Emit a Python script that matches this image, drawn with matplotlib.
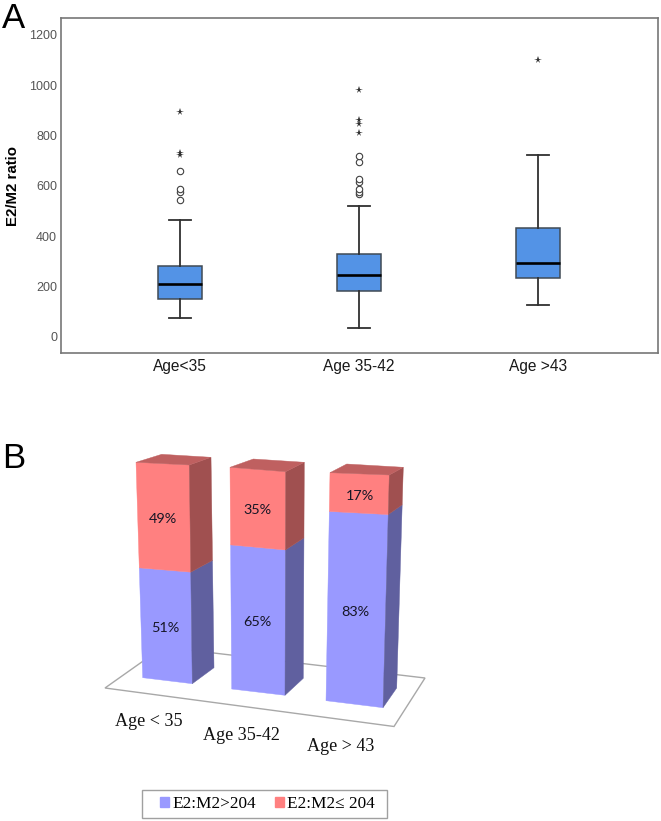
"""
Panel A: box plots of E2/M2 ratio by age, panel B: 3D-looking stacked bars
"""

import matplotlib

matplotlib.use("Agg")
import matplotlib.pyplot as plt
from matplotlib.patches import Patch, Polygon, Rectangle

W, H = 661, 821

age_labels_a = ["Age<35", "Age 35-42", "Age >43"]
whisker_low = [74, 35, 127]
q1_values = [150, 183, 236]
median_values = [209, 248, 294]
q3_values = [281, 330, 433]
whisker_high = [465, 520, 724]
outliers_circle = [
    [544, 576, 587, 660],
    [567, 577, 587, 617, 628, 696, 720],
    [],
]
outliers_star = [
    [722, 730, 895],
    [812, 845, 860, 983],
    [1099],
]
y_ticks = [0, 200, 400, 600, 800, 1000, 1200]

age_labels_b = ["Age < 35", "Age 35-42", "Age > 43"]
share_high = [51, 65, 83]
share_low = [49, 35, 17]
legend_labels = ["E2:M2>204", "E2:M2\u2264 204"]

# Perspective outline of each bar in pixels: (x, y) of the vertical edges
front_left_bottom = [(142.7, 677.7), (231.7, 689.0), (326.0, 700.7)]
front_left_top = [(136.0, 462.3), (230.0, 467.3), (330.0, 472.7)]
front_right_bottom = [(192.3, 683.7), (285.0, 695.3), (383.0, 707.7)]
front_right_top = [(189.3, 465.0), (285.7, 471.7), (389.3, 475.0)]
back_right_bottom = [(214.0, 667.7), (303.3, 678.3), (396.7, 688.0)]
back_right_top = [(211.0, 457.3), (304.3, 462.3), (403.3, 467.3)]
back_left_top = [(161.7, 454.3), (253.3, 459.0), (346.7, 464.0)]

floor_outline = [(105, 688), (163, 647), (425, 678), (394, 726.5)]
high_label_pos = [(165.7, 627.7), (257.0, 622.3), (355.3, 612.0)]
low_label_pos = [(162.7, 519.3), (257.3, 510.0), (359.7, 496.0)]
axis_label_pos = [(115, 721.5), (203, 735), (307, 746.5)]

BLUE_FRONT, BLUE_SIDE = "#9999FF", "#60609F"
RED_FRONT, RED_SIDE, RED_TOP = "#FF8080", "#A05050", "#BF6060"


def along(bottom, top, share):
    """Point on a vertical bar edge at a given share of its height"""
    return (
        bottom[0] + (top[0] - bottom[0]) * share / 100,
        bottom[1] + (top[1] - bottom[1]) * share / 100,
    )


def plot_boxes(fig):
    ax = fig.add_axes(
        [60.5 / W, 1 - 353 / H, (658 - 60.5) / W, (353 - 18) / H]
    )
    stats = []
    for i, label in enumerate(age_labels_a):
        stats.append(
            {
                "label": label,
                "whislo": whisker_low[i],
                "q1": q1_values[i],
                "med": median_values[i],
                "q3": q3_values[i],
                "whishi": whisker_high[i],
                "fliers": [],
            }
        )
    line = {"color": "#303030", "linewidth": 1.3}
    ax.bxp(
        stats,
        positions=range(3),
        widths=0.25,
        capwidths=0.125,
        patch_artist=True,
        boxprops={"facecolor": "#5393E6", "edgecolor": "#404A55", "linewidth": 1.1},
        medianprops={"color": "black", "linewidth": 1.9},
        whiskerprops=line,
        capprops=line,
    )
    for i in range(3):
        ax.plot(
            [i] * len(outliers_circle[i]),
            outliers_circle[i],
            "o",
            mfc="white",
            mec="#404040",
            mew=0.8,
            ms=4.6,
        )
        ax.plot(
            [i] * len(outliers_star[i]),
            outliers_star[i],
            "*",
            color="#303030",
            mew=0,
            ms=5.6,
        )

    ax.set_xlim(-0.668, 2.67)
    ax.set_ylim(-63.6, 1267)
    ax.set_yticks(y_ticks)
    ax.tick_params(length=0)
    ax.tick_params(axis="y", labelsize=9, labelcolor="#555555", pad=2.5)
    ax.tick_params(axis="x", labelsize=11.2, labelcolor="#1a1a1a", pad=4.5)
    ax.set_ylabel("E2/M2 ratio", fontsize=10.8, fontweight="bold")
    ax.yaxis.set_label_coords((20 - 60.5) / (658 - 60.5), 0.5)
    for spine in ax.spines.values():
        spine.set_color("#777777")
        spine.set_linewidth(1.2)


def plot_bars(fig):
    # Full figure axes in pixels, the bars are projected by hand
    ax = fig.add_axes([0, 0, 1, 1], facecolor="none")
    ax.set_xlim(0, W)
    ax.set_ylim(H, 0)
    ax.axis("off")

    ax.add_patch(
        Polygon(floor_outline, closed=True, fc="white", ec="#A8A8A8", lw=1.0)
    )

    for i in range(3):
        fl_b, fl_t = front_left_bottom[i], front_left_top[i]
        fr_b, fr_t = front_right_bottom[i], front_right_top[i]
        br_b, br_t = back_right_bottom[i], back_right_top[i]
        fl_m = along(fl_b, fl_t, share_high[i])
        fr_m = along(fr_b, fr_t, share_high[i])
        br_m = along(br_b, br_t, share_high[i])

        faces = [
            ([fl_b, fr_b, fr_m, fl_m], BLUE_FRONT),
            ([fr_b, br_b, br_m, fr_m], BLUE_SIDE),
            ([fl_m, fr_m, fr_t, fl_t], RED_FRONT),
            ([fr_m, br_m, br_t, fr_t], RED_SIDE),
            ([fl_t, fr_t, br_t, back_left_top[i]], RED_TOP),
        ]
        for points, color in faces:
            ax.add_patch(Polygon(points, closed=True, fc=color, ec=color, lw=0.3))

        for pos, value in ((high_label_pos[i], share_high[i]), (low_label_pos[i], share_low[i])):
            ax.text(
                pos[0],
                pos[1],
                f"{value}%",
                family="Lato",
                fontsize=10.4,
                color="#151525",
                ha="center",
                va="center",
            )
        ax.text(
            axis_label_pos[i][0],
            axis_label_pos[i][1],
            age_labels_b[i],
            family="Liberation Serif",
            fontsize=13.1,
            color="#111111",
            ha="left",
            va="center",
        )

    # Legend frame is wider than the entries, so it is a separate rectangle
    ax.add_patch(Rectangle((142, 790), 245, 28, fc="white", ec="#A0A0A0", lw=1.0))
    handles = [Patch(color=BLUE_FRONT), Patch(color=RED_FRONT)]
    ax.legend(
        handles,
        legend_labels,
        ncol=2,
        loc="center",
        bbox_to_anchor=(267.5, 804),
        bbox_transform=ax.transData,
        prop={"family": "Liberation Serif", "size": 12.4},
        frameon=False,
        handlelength=0.5,
        handleheight=0.5,
        handletextpad=0.2,
        columnspacing=1.1,
        borderpad=0,
        borderaxespad=0,
    )

    ax.text(2, 18, "A", family="Liberation Sans", fontsize=25, ha="left", va="center")
    ax.text(2, 458, "B", family="Liberation Sans", fontsize=25, ha="left", va="center")


if __name__ == "__main__":
    fig = plt.figure(figsize=(W / 100, H / 100), dpi=100, facecolor="white")
    plt.rcParams["font.family"] = ["Liberation Sans", "DejaVu Sans"]
    plot_boxes(fig)
    plot_bars(fig)
    fig.savefig("out.png", dpi=100)
